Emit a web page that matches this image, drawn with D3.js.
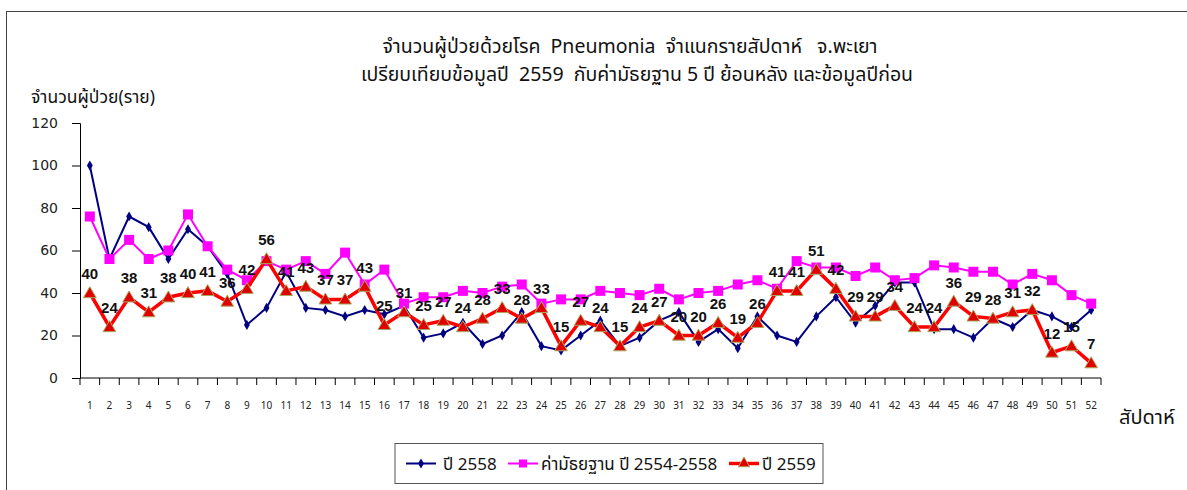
<!DOCTYPE html>
<html>
<head>
<meta charset="utf-8">
<script src="https://cdn.jsdelivr.net/npm/d3@7"></script>
<style>
  body { margin: 0; background: #fff; }
  svg { display: block; font-family: Tahoma, "Noto Sans Thai", "DejaVu Sans", sans-serif; }
</style>
</head>
<body>
<div id="chart"></div>
<script>
const weeks = d3.range(1, 53)

// ปี 2558
const y2558 = [100, 56, 76, 71, 56, 70, 62, 49, 25, 33, 50, 33, 32, 29, 32, 30, 34, 19, 21, 26,
  16, 20, 31, 15, 13, 20, 27, 15, 19, 27, 31, 17, 23, 14, 29, 20, 17, 29, 38, 26,
  34, 45, 45, 23, 23, 19, 28, 24, 32, 29, 24, 32]

// ค่ามัธยฐาน ปี 2554-2558
const median = [76, 56, 65, 56, 60, 77, 62, 51, 46, 55, 51, 55, 49, 59, 44, 51, 35, 38, 38, 41,
  40, 43, 44, 35, 37, 37, 41, 40, 39, 42, 37, 40, 41, 44, 46, 42, 55, 52, 52, 48,
  52, 46, 47, 53, 52, 50, 50, 44, 49, 46, 39, 35]

// ปี 2559
const y2559 = [40, 24, 38, 31, 38, 40, 41, 36, 42, 56, 41, 43, 37, 37, 43, 25, 31, 25, 27, 24,
  28, 33, 28, 33, 15, 27, 24, 15, 24, 27, 20, 20, 26, 19, 26, 41, 41, 51, 42, 29,
  29, 34, 24, 24, 36, 29, 28, 31, 32, 12, 15, 7]

const yTicks = [0, 20, 40, 60, 80, 100, 120]

const width = 1187, height = 490
const svg = d3.select('#chart').append('svg')
  .attr('width', width)
  .attr('height', height)

// outer frame
svg.append('rect')
  .attr('x', 6.5).attr('y', 11.5)
  .attr('width', 1200).attr('height', 500)
  .attr('fill', 'none').attr('stroke', '#444').attr('stroke-width', 1)

// titles
svg.append('text')
  .attr('x', 630).attr('y', 53)
  .attr('text-anchor', 'middle')
  .attr('font-size', 19.5)
  .attr('fill', '#111')
  .attr('xml:space', 'preserve')
  .text('จำนวนผู้ป่วยด้วยโรค  Pneumonia  จำแนกรายสัปดาห์   จ.พะเยา')

svg.append('text')
  .attr('x', 637).attr('y', 81)
  .attr('text-anchor', 'middle')
  .attr('font-size', 19.5)
  .attr('fill', '#111')
  .attr('xml:space', 'preserve')
  .text('เปรียบเทียบข้อมูลปี  2559  กับค่ามัธยฐาน 5 ปี ย้อนหลัง และข้อมูลปีก่อน')

svg.append('text')
  .attr('x', 31).attr('y', 103)
  .attr('font-size', 17.5)
  .attr('fill', '#111')
  .text('จำนวนผู้ป่วย(ราย)')

const x = d3.scaleBand().domain(weeks).range([80, 1101]).padding(0)
const y = d3.scaleLinear().domain([0, 120]).range([378, 123])
const cx = d => x(d) + x.bandwidth() / 2

// y axis
const yAxis = svg.append('g')
  .attr('transform', 'translate(80,0)')
  .call(d3.axisLeft(y).tickValues(yTicks).tickSize(8).tickPadding(14))
yAxis.select('.domain').attr('stroke', '#000')
yAxis.selectAll('line').attr('stroke', '#000')
yAxis.selectAll('text').attr('font-size', 14).attr('fill', '#222').attr('font-family', 'Tahoma, "DejaVu Sans", sans-serif')

// x axis: ticks between the weeks, labels under each week
const xAxis = svg.append('g').attr('transform', 'translate(0,378)')
xAxis.append('line')
  .attr('x1', x.range()[0]).attr('x2', x.range()[1])
  .attr('stroke', '#000')
xAxis.selectAll('line.tick')
  .data(weeks.concat([53]))
  .join('line')
  .attr('class', 'tick')
  .attr('x1', d => d === 53 ? x.range()[1] : x(d))
  .attr('x2', d => d === 53 ? x.range()[1] : x(d))
  .attr('y1', 0).attr('y2', 7)
  .attr('stroke', '#000')
xAxis.selectAll('text')
  .data(weeks)
  .join('text')
  .attr('x', d => cx(d))
  .attr('y', 31)
  .attr('text-anchor', 'middle')
  .attr('font-size', 10)
  .attr('fill', '#222')
  .text(d => d)

svg.append('text')
  .attr('x', 1119).attr('y', 424)
  .attr('font-size', 20)
  .attr('fill', '#111')
  .text('สัปดาห์')

const line = d3.line().x((d, i) => cx(weeks[i])).y(d => y(d))

// ปี 2558
svg.append('path').datum(y2558)
  .attr('d', line).attr('fill', 'none')
  .attr('stroke', '#000080').attr('stroke-width', 2)
svg.append('g').selectAll('path')
  .data(y2558).join('path')
  .attr('d', d3.symbol(d3.symbolDiamond, 30))
  .attr('transform', (d, i) => `translate(${cx(weeks[i])},${y(d)})`)
  .attr('fill', '#000080')

// median
svg.append('path').datum(median)
  .attr('d', line).attr('fill', 'none')
  .attr('stroke', '#ff00ff').attr('stroke-width', 2)
svg.append('g').selectAll('rect')
  .data(median).join('rect')
  .attr('x', (d, i) => cx(weeks[i]) - 5)
  .attr('y', d => y(d) - 5)
  .attr('width', 10).attr('height', 10)
  .attr('fill', '#ff00ff')

// ปี 2559
svg.append('path').datum(y2559)
  .attr('d', line).attr('fill', 'none')
  .attr('stroke', '#ff0000').attr('stroke-width', 3.5)
  .attr('stroke-linejoin', 'miter')
svg.append('g').selectAll('path')
  .data(y2559).join('path')
  .attr('d', d3.symbol(d3.symbolTriangle, 70))
  .attr('transform', (d, i) => `translate(${cx(weeks[i])},${y(d) + 1})`)
  .attr('fill', '#e00000')
  .attr('stroke', '#a8a860').attr('stroke-width', 1)

svg.append('g').selectAll('text')
  .data(y2559).join('text')
  .attr('x', (d, i) => cx(weeks[i]))
  .attr('y', d => y(d) - 14)
  .attr('text-anchor', 'middle')
  .attr('font-family', 'Arial, "Liberation Sans", sans-serif')
  .attr('font-weight', 'bold')
  .attr('font-size', 15)
  .attr('fill', '#111')
  .text(d => d)

// legend
const legend = svg.append('g')
legend.append('rect')
  .attr('x', 395).attr('y', 443.5)
  .attr('width', 428).attr('height', 40)
  .attr('fill', '#fff').attr('stroke', '#555').attr('stroke-width', 1)

const items = [
  { label: 'ปี 2558', color: '#000080', x: 406, w: 30, tx: 443, mark: 'diamond', sw: 2 },
  { label: 'ค่ามัธยฐาน ปี 2554-2558', color: '#ff00ff', x: 508, w: 30, tx: 541, mark: 'square', sw: 2 },
  { label: 'ปี 2559', color: '#ff0000', x: 729, w: 30, tx: 762, mark: 'triangle', sw: 3.5 }
]
items.forEach(it => {
  const my = 463.5
  legend.append('line')
    .attr('x1', it.x).attr('x2', it.x + it.w)
    .attr('y1', my).attr('y2', my)
    .attr('stroke', it.color).attr('stroke-width', it.sw)
  const mx = it.x + it.w / 2
  if (it.mark === 'diamond') {
    legend.append('path').attr('d', d3.symbol(d3.symbolDiamond, 30))
      .attr('transform', `translate(${mx},${my})`).attr('fill', it.color)
  } else if (it.mark === 'square') {
    legend.append('rect').attr('x', mx - 4).attr('y', my - 4)
      .attr('width', 8).attr('height', 8).attr('fill', it.color)
  } else {
    legend.append('path').attr('d', d3.symbol(d3.symbolTriangle, 55))
      .attr('transform', `translate(${mx},${my})`)
      .attr('fill', '#e00000').attr('stroke', '#a8a860')
  }
  legend.append('text')
    .attr('x', it.tx).attr('y', my + 6)
    .attr('font-size', 17)
    .attr('fill', '#111')
    .text(it.label)
})
</script>
</body>
</html>
